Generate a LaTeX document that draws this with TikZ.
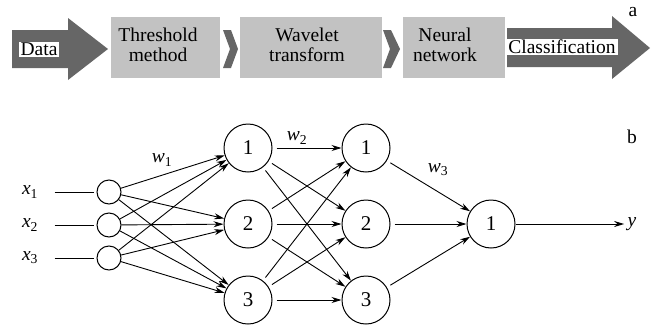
\documentclass[tikz,border=0pt]{standalone}
\usepackage{fontspec}
\setmainfont{Liberation Serif}
\usetikzlibrary{positioning, arrows.meta, calc}
\definecolor{arrowgray}{RGB}{102,102,102}
\definecolor{boxgray}{RGB}{194,194,194}
\tikzset{
  stagebox/.style={fill=boxgray, minimum width=109pt, minimum height=61pt, inner sep=0pt},
  tag/.style={fill=white, inner xsep=2pt, inner ysep=1pt},
  stagetext/.style={align=center, inner sep=0pt, font=\rmfamily\fontsize{19.5}{20}\selectfont},
  innode/.style={circle, draw, line width=1pt, minimum size=24pt, inner sep=0pt},
  neuron/.style={circle, draw, line width=1pt, minimum size=48pt, inner sep=0pt,
    font=\rmfamily\fontsize{21}{21}\selectfont},
  link/.style={-{Stealth[length=10pt,width=6pt]}, line width=0.9pt},
  gaplink/.style={link, shorten <=4pt}
}

\begin{document}
\begin{tikzpicture}[x=1pt, y=-1pt, font=\rmfamily\fontsize{19.5}{21}\selectfont]
\useasboundingbox (0,0) rectangle (656,327);

%% a: processing chain
\fill[arrowgray] (12,30) -- (68,30) -- (68,18) -- (108,49) -- (68,80) -- (68,68) -- (12,68) -- cycle;
\node[tag] (data) at (39,49.5) {Data};
\node[stagebox] (thr) at (165.5,47.5) {};
\node[stagetext] (thrt) at (158,45) {Threshold\\method};
\fill[arrowgray] (223,30) -- (231,30) -- (238,49) -- (231,68) -- (223,68) -- (230,49) -- cycle;
\node[stagebox, minimum width=142pt] (wav) at (311,47.5) {};
\node[stagetext] (wavt) at (307,45) {Wavelet\\transform};
\fill[arrowgray] (383,30) -- (391,30) -- (400,49) -- (391,68) -- (383,68) -- (390,49) -- cycle;
\node[stagebox, minimum width=102pt] (nn) at (454,47.5) {};
\node[stagetext] (nnt) at (445,45) {Neural\\network};
\fill[arrowgray] (507,28) -- (612,28) -- (612,16) -- (650,48) -- (612,79) -- (612,67) -- (507,67) -- cycle;
\node[tag] (cls) at (562,47) {Classification};
\node (lbla) at (633,12) {a};

%% b: network
\node (lblb) at (632,137) {b};
\foreach \i/\y in {1/192,2/225,3/258} {
  \node (x\i) at (30,\y) {\textit{x}\textsubscript{\i}};
  \node[innode] (in\i) at (109,\y) {};
  \draw[line width=0.9pt, shorten <=13pt, shorten >=3pt] (x\i.east) -- (in\i.west);
}
\foreach \i/\y in {1/148,2/224,3/300} {
  \node[neuron] (h\i) at (248,\y) {\i};
  \node[neuron] (g\i) at (366,\y) {\i};
}
\node[neuron] (out) at (491,224) {1};
\node (yl) at (632,224) {\textit{y}};

\foreach \i in {1,2,3}
  \foreach \j in {1,2,3} {
    \draw[link] (in\i) -- (h\j);
    \draw[gaplink] (h\i) -- (g\j);
  }
\foreach \j in {1,2,3}
  \draw[gaplink] (g\j) -- (out);
\draw[link] (out) -- (yl.west);

\node (w1) at (162,160) {\textit{w}\textsubscript{1}};
\node (w2) at (297,138) {\textit{w}\textsubscript{2}};
\node (w3) at (438,170) {\textit{w}\textsubscript{3}};
\end{tikzpicture}
\end{document}
